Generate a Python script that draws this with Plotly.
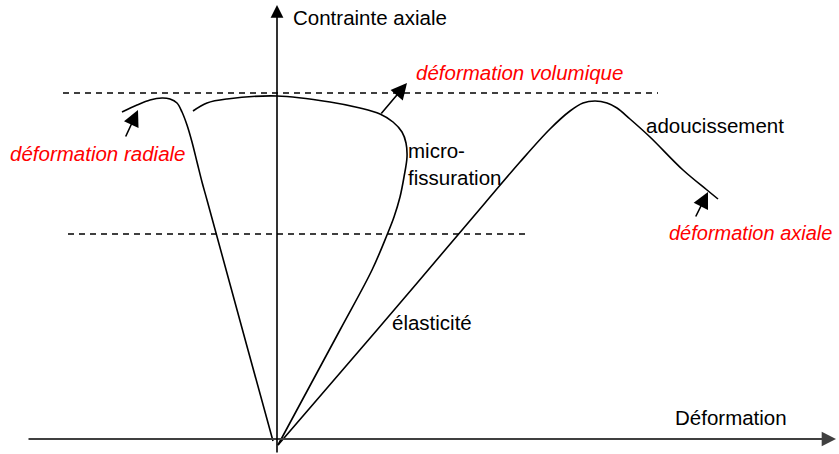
import plotly.graph_objects as go

# Courbes schématiques (déformation, contrainte)
radial_eps = [-155, -140, -127, -115, -107, -100, -95, -90, -85, -80, -75, -70, -29, -4]
radial_sig = [328, 335, 340, 342, 341, 337, 328, 315, 298, 278, 258, 240, 90, -1]

vol_eps = [1, 63, 95, 110, 117, 123, 127, 130, 129, 125, 116, 103, 83, 53, 0, -50, -70, -84]
vol_sig = [-5, 110, 170, 205, 223, 243, 263, 283, 297, 308, 318, 326, 332, 338, 344, 341, 337, 329]

axial_eps = [1, 100, 208, 243, 273, 293, 306, 318, 330, 340, 353, 373, 406, 430, 441]
axial_sig = [-5, 110, 237, 278, 311, 329, 337, 339, 337, 332, 321, 303, 270, 250, 241]

# Seuils (lignes pointillées)
seuil_rupture = 347
seuil_fissuration = 206

RED = "#ff0000"
FONT = "Liberation Sans, Arial, sans-serif"
FS = 20.5

fig = go.Figure()

for xs, ys in [(radial_eps, radial_sig), (vol_eps, vol_sig), (axial_eps, axial_sig)]:
    fig.add_trace(go.Scatter(
        x=xs, y=ys, mode="lines",
        line=dict(color="black", width=1.6, shape="spline", smoothing=1.0),
        hoverinfo="skip", showlegend=False,
    ))

# lignes pointillées
fig.add_shape(type="line", x0=-214, x1=381, y0=seuil_rupture, y1=seuil_rupture,
              line=dict(color="black", width=1.4, dash="6px,5px"))
fig.add_shape(type="line", x0=-209, x1=250, y0=seuil_fissuration, y1=seuil_fissuration,
              line=dict(color="black", width=1.4, dash="6px,5px"))

def fleche(x0, y0, x1, y1, color="black", width=1.6, size=2.0):
    fig.add_annotation(x=x1, y=y1, ax=x0, ay=y0, xref="x", yref="y", axref="x", ayref="y",
                       text="", showarrow=True, arrowhead=2, arrowsize=size,
                       arrowwidth=width, arrowcolor=color)

# axes
fleche(-250, 1, 559, 1, color="#404040", width=2.2, size=1.3)
fleche(0, -14, 0, 435, width=1.6, size=1.6)

# flèches des légendes
fleche(-152, 302, -139, 330)
fleche(103, 325, 130, 357)
fleche(418, 222, 431, 248)

def texte(x, y, t, color="black", italic=False, size=FS):
    fig.add_annotation(x=x, y=y, text=t, showarrow=False, xanchor="left", yanchor="middle",
                       xshift=-2, font=dict(family=FONT, size=size, color=color,
                                 style="italic" if italic else "normal"))

texte(16, 423, "Contrainte axiale")
texte(139, 368, "déformation volumique", RED, True)
texte(131, 290, "micro-")
texte(131, 263, "fissuration")
texte(-267, 287, "déformation radiale", RED, True)
texte(115, 118, "élasticité")
texte(369, 315, "adoucissement")
texte(398, 23, "Déformation")
texte(392, 207, "déformation axiale", RED, True, size=20)

fig.update_layout(
    width=839, height=454,
    margin=dict(l=0, r=0, t=0, b=0),
    plot_bgcolor="white", paper_bgcolor="white",
    xaxis=dict(range=[-277, 562], visible=False, fixedrange=True),
    yaxis=dict(range=[-14, 440], visible=False, fixedrange=True),
)

fig.write_html("out.html", config={"displayModeBar": False},
               post_script="document.body.style.margin='0';")
